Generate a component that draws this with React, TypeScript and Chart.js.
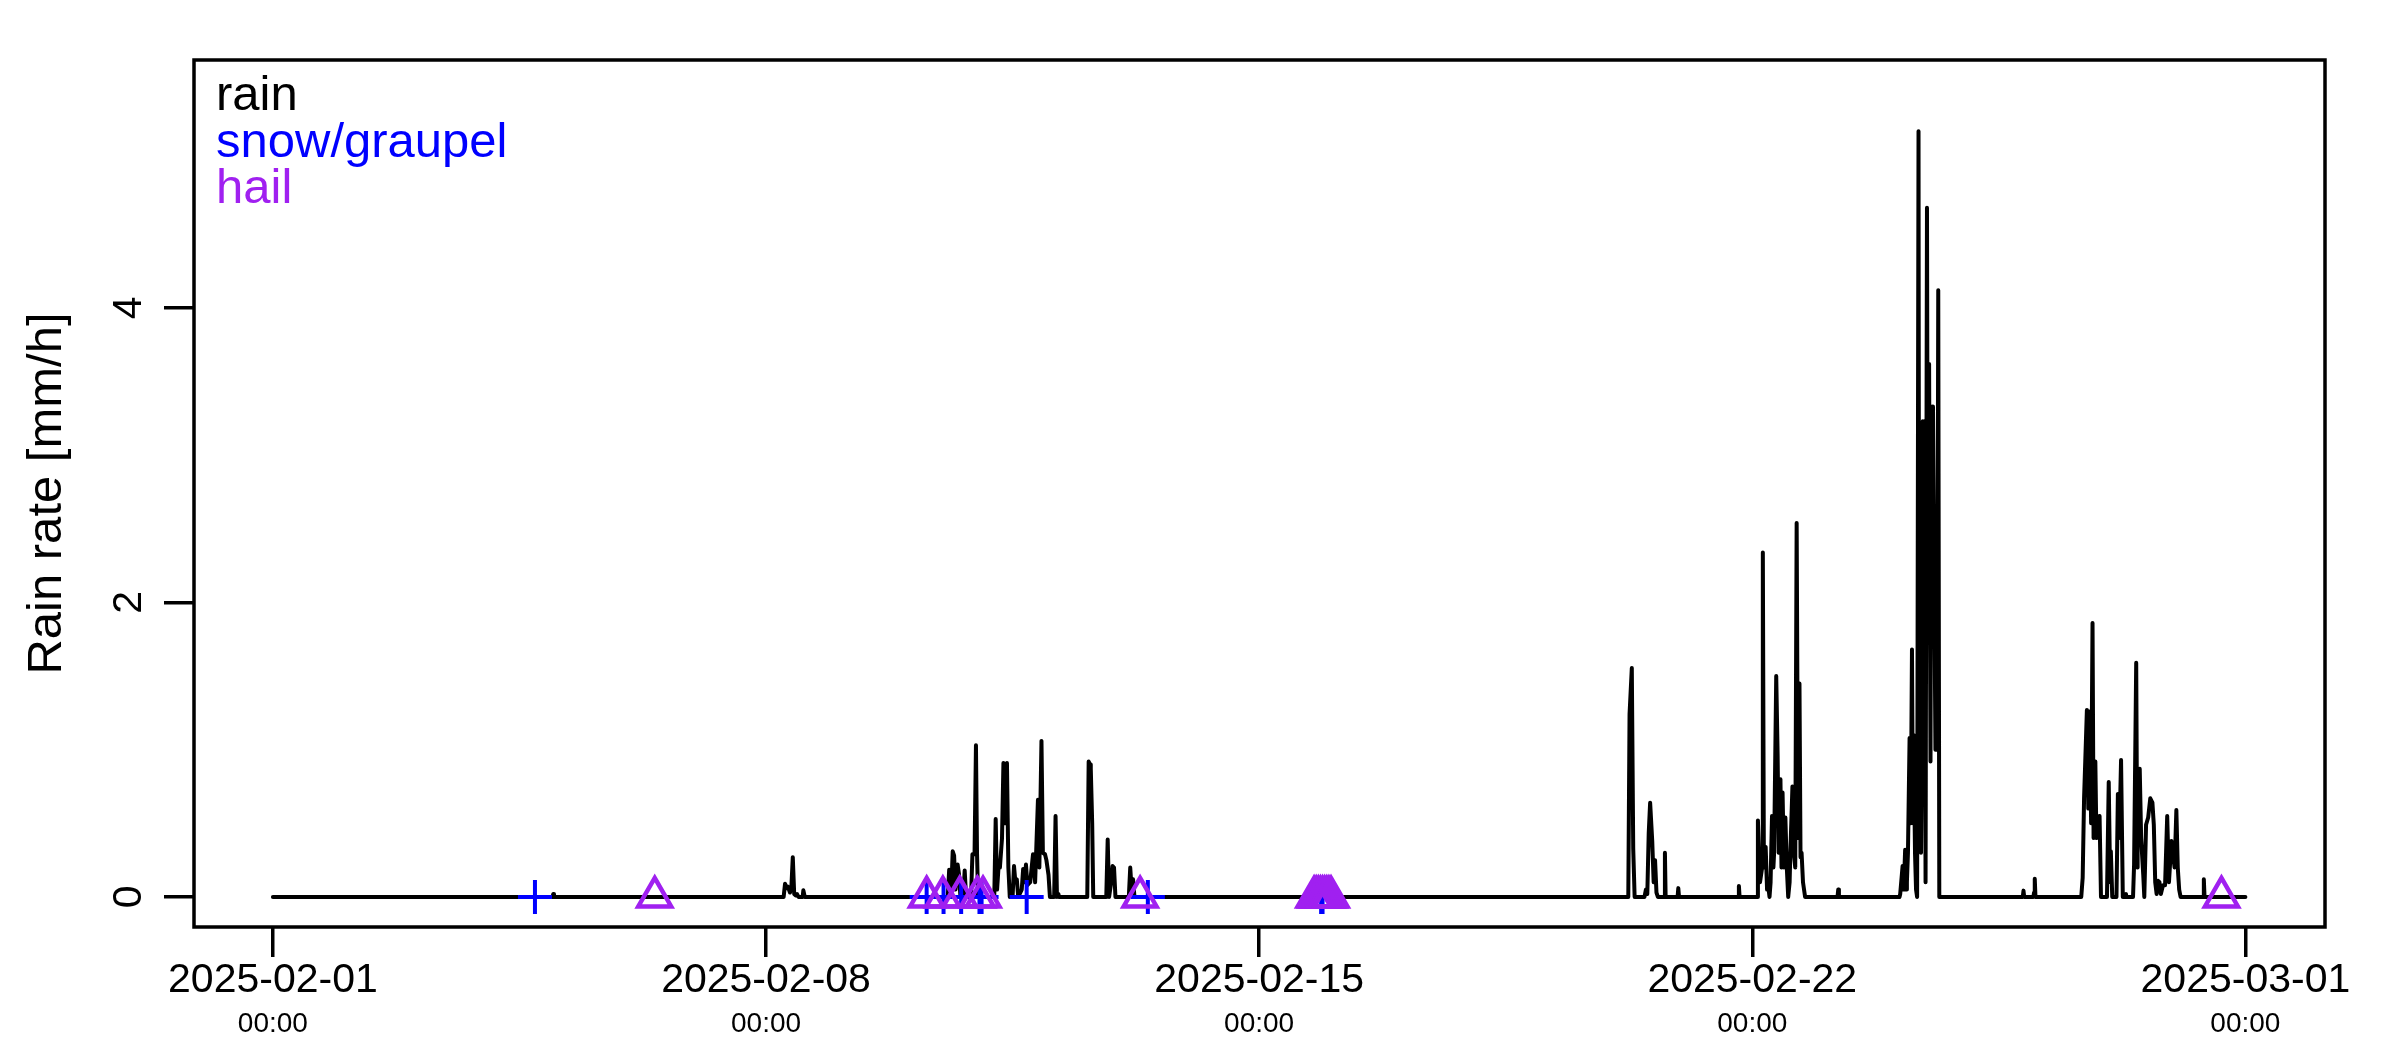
import { useEffect, useRef } from "react";
import { Chart, registerables } from "chart.js";

Chart.register(...registerables);

const FONT = "'Liberation Sans', Arial, Helvetica, sans-serif";

// rain rate [mm/h] per rain episode, as [days since 2025-02-01 00:00, rate]
const rainFeb04 = [[3.97, 0], [3.98, 0.02], [3.99, 0]];

const rainFeb08 = [
  [7.25, 0], [7.27, 0.09], [7.29, 0.06], [7.31, 0.07], [7.34, 0.03], [7.36, 0.07],
  [7.38, 0.27], [7.4, 0.02], [7.42, 0.01], [7.44, 0.02], [7.46, 0],
  [7.52, 0], [7.53, 0.045], [7.55, 0],
];

const rainFeb10 = [
  [9.58, 0], [9.6, 0.185], [9.63, 0.05], [9.65, 0.31], [9.67, 0.28], [9.69, 0.05],
  [9.72, 0.22], [9.74, 0.15], [9.76, 0], [9.8, 0], [9.82, 0.18], [9.84, 0],
  [9.91, 0], [9.93, 0.29], [9.96, 0.29], [9.98, 1.03], [9.995, 0.3], [10.01, 0],
  [10.24, 0], [10.26, 0.53], [10.28, 0.05], [10.3, 0.2], [10.32, 0.2], [10.35, 0.4],
  [10.37, 0.91], [10.39, 0.5], [10.42, 0.91], [10.44, 0.2], [10.46, 0],
  [10.5, 0], [10.52, 0.21], [10.54, 0.1], [10.56, 0.12], [10.58, 0],
  [10.63, 0.05], [10.65, 0.19], [10.67, 0.1], [10.69, 0.22], [10.71, 0.08], [10.75, 0.1],
  [10.79, 0.29], [10.82, 0.1], [10.86, 0.66], [10.88, 0.2], [10.91, 1.06], [10.93, 0.3],
  [10.96, 0.29], [10.98, 0.25], [11.01, 0.15], [11.03, 0],
  [11.09, 0], [11.11, 0.55], [11.13, 0], [11.15, 0.02], [11.16, 0],
];

const rainFeb12 = [
  [11.56, 0], [11.58, 0.92], [11.6, 0.9], [11.61, 0.87], [11.63, 0.5], [11.645, 0],
  [11.83, 0], [11.85, 0.39], [11.87, 0], [11.9, 0.1], [11.92, 0.21], [11.94, 0.2], [11.96, 0],
  [12.15, 0], [12.17, 0.2], [12.19, 0.05], [12.21, 0.12], [12.23, 0],
];

const rainFeb20 = [
  [19.24, 0], [19.258, 1.24], [19.29, 1.555], [19.31, 0.33], [19.33, 0],
  [19.47, 0], [19.49, 0.05], [19.51, 0.02], [19.53, 0.43], [19.55, 0.64], [19.58, 0.38],
  [19.6, 0.1], [19.62, 0.25], [19.64, 0.03], [19.66, 0],
  [19.75, 0], [19.76, 0.3], [19.77, 0],
  [19.94, 0], [19.95, 0.06], [19.96, 0],
  [20.8, 0], [20.81, 0.075], [20.82, 0],
];

const rainFeb22 = [
  [21.07, 0], [21.08, 0.52], [21.11, 0.1], [21.14, 0.2], [21.15, 2.34], [21.165, 0.2],
  [21.19, 0.34], [21.21, 0.05], [21.22, 0.1], [21.245, 0], [21.26, 0.1], [21.28, 0.55],
  [21.3, 0.2], [21.31, 0.3], [21.34, 1.5], [21.36, 0.96], [21.375, 0.3], [21.4, 0.8],
  [21.415, 0.2], [21.43, 0.71], [21.45, 0.2], [21.47, 0.54], [21.49, 0.2], [21.51, 0],
  [21.53, 0.1], [21.54, 0.29], [21.57, 0.75], [21.59, 0.3], [21.61, 0.2], [21.63, 2.54],
  [21.65, 0.4], [21.67, 1.45], [21.685, 0.27], [21.7, 0.3], [21.72, 0.1], [21.75, 0],
  [22.21, 0], [22.22, 0.05], [22.23, 0],
];

const rainFeb24 = [
  [23.09, 0], [23.1, 0.02], [23.134, 0.21], [23.15, 0.05], [23.17, 0.32], [23.185, 0.05],
  [23.195, 0.1], [23.21, 0.3], [23.233, 1.08], [23.25, 0.5], [23.267, 1.68], [23.28, 0.5],
  [23.29, 1.1], [23.31, 0.3], [23.325, 0.05], [23.34, 0], [23.36, 5.2], [23.368, 1.5],
  [23.375, 2.87], [23.395, 0.3], [23.41, 1.31], [23.42, 3.23], [23.43, 2.0], [23.44, 3.23],
  [23.46, 0.1], [23.48, 4.68], [23.49, 2.5], [23.51, 3.62], [23.53, 0.92], [23.54, 3.33],
  [23.555, 2.5], [23.565, 3.33], [23.58, 2.42], [23.6, 1.0], [23.61, 2.2], [23.625, 1.0],
  [23.64, 4.12], [23.655, 0],
];

const rainFeb25 = [
  [24.84, 0], [24.85, 0.043], [24.86, 0],
  [24.99, 0], [25.0, 0.03], [25.01, 0.124], [25.02, 0],
];

const rainFeb27 = [
  [25.67, 0], [25.69, 0.13], [25.71, 0.67], [25.75, 1.27], [25.77, 0.6], [25.79, 1.26],
  [25.81, 0.5], [25.83, 1.86], [25.845, 0.4], [25.87, 0.92], [25.885, 0.4], [25.9, 0.5],
  [25.93, 0.55], [25.95, 0],
  [26.035, 0], [26.06, 0.78], [26.08, 0.1], [26.09, 0.31], [26.11, 0],
  [26.17, 0], [26.19, 0.7], [26.21, 0.4], [26.235, 0.93], [26.26, 0],
  [26.3, 0], [26.305, 0.02], [26.31, 0],
  [26.405, 0], [26.42, 0.22], [26.45, 1.59], [26.465, 0.2], [26.47, 0.42], [26.5, 0.87],
  [26.52, 0.4], [26.55, 0.15], [26.565, 0], [26.59, 0.49], [26.62, 0.54], [26.65, 0.67],
  [26.68, 0.64], [26.7, 0.49], [26.72, 0.1], [26.74, 0.02], [26.76, 0.11], [26.78, 0.1],
  [26.8, 0.02], [26.83, 0.08], [26.86, 0.08], [26.89, 0.55], [26.915, 0.1], [26.95, 0.38],
  [26.97, 0.3], [26.995, 0.2], [27.02, 0.59], [27.04, 0.2], [27.06, 0.05], [27.08, 0],
  [27.4, 0], [27.41, 0.12], [27.42, 0],
];

// detections drawn on the zero line, days since 2025-02-01 00:00
const snowDays = [3.72, 9.28, 9.52, 9.77, 10.03, 10.06, 10.7, 12.42, 14.88, 14.9];
const hailDays = [
  5.42, 9.28, 9.51, 9.75, 10.0, 10.08, 12.31,
  14.78, 14.81, 14.84, 14.87, 14.9, 14.93, 14.96, 14.99, 15.02, 27.66,
];

const xTickDays = [0, 7, 14, 21, 28];
const xTickDates = ["2025-02-01", "2025-02-08", "2025-02-15", "2025-02-22", "2025-03-01"];
const xTickTimes = ["00:00", "00:00", "00:00", "00:00", "00:00"];
const yTicks = [0, 2, 4];

const X_MIN = -1.12;
const X_MAX = 29.13;

const rainSeries = [
  [0, 0],
  ...rainFeb04, ...rainFeb08, ...rainFeb10, ...rainFeb12, ...rainFeb20,
  ...rainFeb22, ...rainFeb24, ...rainFeb25, ...rainFeb27,
  [28, 0],
];

// box, rotated y labels and the text-only legend, like base R graphics
const rPlotExtras = {
  id: "rPlotExtras",
  afterDraw(chart: any) {
    const { ctx, chartArea } = chart;
    const yScale = chart.scales.y;
    ctx.save();
    ctx.strokeStyle = "#000";
    ctx.lineWidth = 3.5;
    ctx.strokeRect(
      chartArea.left,
      chartArea.top,
      chartArea.right - chartArea.left,
      chartArea.bottom - chartArea.top
    );

    ctx.fillStyle = "#000";
    ctx.font = `41px ${FONT}`;
    ctx.textAlign = "center";
    ctx.textBaseline = "middle";
    yScale.ticks.forEach((t: any) => {
      ctx.save();
      ctx.translate(yScale.right - 64, yScale.getPixelForValue(t.value));
      ctx.rotate(-Math.PI / 2);
      ctx.fillText(String(t.value), 0, 0);
      ctx.restore();
    });

    ctx.font = `49px ${FONT}`;
    ctx.textAlign = "left";
    ctx.textBaseline = "alphabetic";
    chart.data.datasets.forEach((ds: any, i: number) => {
      ctx.fillStyle = ds.borderColor;
      ctx.fillText(ds.label, chartArea.left + 22, chartArea.top + 50 + i * 46.5);
    });
    ctx.restore();
  },
};

export default function App() {
  const canvasRef = useRef<HTMLCanvasElement>(null);

  useEffect(() => {
    const chart = new Chart(canvasRef.current!, {
      type: "line",
      data: {
        datasets: [
          {
            label: "rain",
            data: rainSeries.map(([d, r]) => ({ x: d, y: r })),
            borderColor: "#000000",
            borderWidth: 4,
            borderJoinStyle: "round",
            borderCapStyle: "round",
            pointRadius: 0,
            tension: 0,
            fill: false,
            order: 3,
          },
          {
            label: "snow/graupel",
            data: snowDays.map((d) => ({ x: d, y: 0 })),
            showLine: false,
            borderColor: "#0000FF",
            pointStyle: "cross",
            pointRadius: 17,
            pointBorderWidth: 4,
            pointBorderColor: "#0000FF",
            order: 2,
          },
          {
            label: "hail",
            data: hailDays.map((d) => ({ x: d, y: 0 })),
            showLine: false,
            borderColor: "#A020F0",
            pointStyle: "triangle",
            pointRadius: 19,
            pointBorderWidth: 4.5,
            pointBorderColor: "#A020F0",
            pointBackgroundColor: "rgba(0,0,0,0)",
            order: 1,
          },
        ] as any,
      },
      options: {
        responsive: false,
        devicePixelRatio: 1,
        animation: false,
        events: [],
        layout: { padding: { top: 60, right: 75, bottom: 0, left: 0 } },
        plugins: {
          legend: { display: false },
          tooltip: { enabled: false },
        },
        scales: {
          x: {
            type: "linear",
            position: "bottom",
            min: X_MIN,
            max: X_MAX,
            bounds: "data",
            weight: 0,
            afterBuildTicks: (s: any) => {
              s.ticks = xTickDays.map((v) => ({ value: v }));
            },
            afterFit: (s: any) => {
              s.height = 73;
            },
            grid: {
              drawOnChartArea: false,
              drawTicks: true,
              tickLength: 30,
              lineWidth: 3.5,
              color: "#000",
            },
            border: { display: false },
            ticks: {
              autoSkip: false,
              maxRotation: 0,
              minRotation: 0,
              padding: 3,
              color: "#000",
              font: { family: FONT, size: 41, lineHeight: 1 },
              callback: (_v: any, i: number) => xTickDates[i],
            },
          },
          x2: {
            type: "linear",
            position: "bottom",
            min: X_MIN,
            max: X_MAX,
            bounds: "data",
            weight: 1,
            afterBuildTicks: (s: any) => {
              s.ticks = xTickDays.map((v) => ({ value: v }));
            },
            afterFit: (s: any) => {
              s.height = 50;
            },
            grid: { display: false, drawTicks: false },
            border: { display: false },
            ticks: {
              autoSkip: false,
              maxRotation: 0,
              minRotation: 0,
              padding: 10,
              color: "#000",
              font: { family: FONT, size: 28, lineHeight: 1 },
              callback: (_v: any, i: number) => xTickTimes[i],
            },
          },
          y: {
            type: "linear",
            min: -0.204,
            max: 5.684,
            bounds: "data",
            afterBuildTicks: (s: any) => {
              s.ticks = yTicks.map((v) => ({ value: v }));
            },
            afterFit: (s: any) => {
              s.width = 194;
            },
            grid: {
              drawOnChartArea: false,
              drawTicks: true,
              tickLength: 30,
              lineWidth: 3.5,
              color: "#000",
            },
            border: { display: false },
            ticks: { display: false },
            title: {
              display: true,
              text: "Rain rate [mm/h]",
              color: "#000",
              font: { family: FONT, size: 49, lineHeight: 1 },
              padding: { top: 23, bottom: 0 },
            },
          },
        },
      } as any,
      plugins: [rPlotExtras],
    });

    return () => {
      chart.destroy();
    };
  }, []);

  return (
    <div
      style={{
        position: "absolute",
        left: 0,
        top: 0,
        width: 2400,
        height: 1050,
        background: "#fff",
      }}
    >
      <canvas ref={canvasRef} width={2400} height={1050} style={{ display: "block" }} />
    </div>
  );
}
